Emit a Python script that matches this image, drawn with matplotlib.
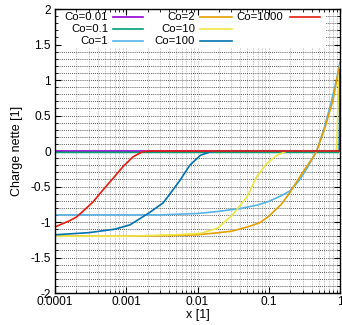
import matplotlib
matplotlib.use("Agg")
import matplotlib.pyplot as plt
from matplotlib.lines import Line2D
from matplotlib.patches import Rectangle
import numpy as np

plt.rcParams['font.family'] = ['Liberation Sans', 'DejaVu Sans']

labels = ["Co=0.01", "Co=0.1", "Co=1", "Co=2", "Co=10", "Co=100", "Co=1000"]
colors = ["#9400D3", "#009E73", "#56B4E9", "#E69F00", "#F0E442", "#0072B2", "#E51E10"]

x_co001 = [1e-4, 1.0]
y_co001 = [0.0, 0.0]

x_co01 = [1e-4, 0.95, 0.985, 0.995, 1.0]
y_co01 = [-0.02, -0.02, 0.0, 0.4, 1.2]

x_co1 = [1e-4, 0.003, 0.01, 0.02, 0.04, 0.07, 0.1, 0.15, 0.2, 0.27, 0.35, 0.47, 0.6, 0.75, 0.9, 1.0]
y_co1 = [-0.9, -0.9, -0.88, -0.85, -0.81, -0.76, -0.71, -0.63, -0.56, -0.41, -0.23, 0.0, 0.32, 0.68, 1.02, 1.25]

x_co2 = [1e-4, 0.001, 0.005, 0.01, 0.02, 0.03, 0.05, 0.075, 0.1, 0.15, 0.2, 0.27, 0.35, 0.42, 0.47, 0.62, 0.8, 0.94, 1.0]
y_co2 = [-1.2, -1.2, -1.19, -1.18, -1.15, -1.13, -1.07, -1.01, -0.92, -0.75, -0.58, -0.37, -0.2, -0.09, 0.0, 0.34, 0.72, 1.1, 1.22]

x_co10 = [1e-4, 0.001, 0.005, 0.011, 0.019, 0.031, 0.05, 0.068, 0.095, 0.13, 0.18, 0.88, 0.9, 0.92, 0.94, 0.97, 1.0]
y_co10 = [-1.2, -1.2, -1.18, -1.16, -1.09, -0.9, -0.64, -0.36, -0.17, -0.06, 0.0, 0.0, 0.1, 0.4, 0.7, 1.0, 1.2]

x_co100 = [1e-4, 0.0003, 0.0007, 0.00113, 0.0021, 0.0033, 0.0045, 0.0057, 0.0078, 0.011, 0.0165, 0.98, 1.0]
y_co100 = [-1.18, -1.15, -1.1, -1.04, -0.87, -0.73, -0.55, -0.41, -0.2, -0.06, 0.0, 0.0, 1.15]

x_co1000 = [1e-4, 0.000162, 0.0002, 0.00024, 0.00034, 0.00047, 0.00066, 0.0009, 0.00125, 0.0017, 0.0022, 0.995, 1.0]
y_co1000 = [-1.07, -0.98, -0.93, -0.86, -0.72, -0.55, -0.38, -0.22, -0.08, -0.01, 0.0, 0.0, 1.1]

series = [(x_co001, y_co001), (x_co01, y_co01), (x_co1, y_co1), (x_co2, y_co2),
          (x_co10, y_co10), (x_co100, y_co100), (x_co1000, y_co1000)]

W, H = 342, 325
fig = plt.figure(figsize=(W / 100, H / 100), dpi=100)
L, R, T, B = 55, 340, 9, 293
ax = fig.add_axes([L / W, (H - B) / H, (R - L) / W, (B - T) / H])
ax.set_xscale('log')
ax.set_xlim(1e-4, 1)
ax.set_ylim(-2, 2)

# grid
for d in [1e-4, 1e-3, 1e-2, 1e-1]:
    for m in range(1, 10):
        v = d * m
        if 1e-4 < v < 1:
            ax.axvline(v, color='#b0b0b0', lw=0.6, ls=(0, (1, 1)), zorder=1)
for yv in np.arange(-19, 20) / 10.0:
    ax.axhline(yv, color='#202020', lw=0.6, ls=(0, (1, 1.5)), zorder=1)

# legend box
def px2ax(px, py):
    return ((px - L) / (R - L), (B - py) / (B - T))

x0, y0 = px2ax(57, 48)
x1, y1 = px2ax(326, 10)
ax.add_patch(Rectangle((x0, y0), x1 - x0, y1 - y0, transform=ax.transAxes,
                       facecolor='white', edgecolor='none', zorder=1.5))

for (xs, ys), c in zip(series, colors):
    ax.plot(xs, ys, color=c, lw=1.2, zorder=2)

# legend entries
cols = [(108, 113, 143), (195, 200, 232), (283, 290, 320)]
rows = [16.5, 29, 40.5]
for i, (lab, c) in enumerate(zip(labels, colors)):
    col, row = divmod(i, 3)
    tr, s0, s1 = cols[col]
    ty = rows[row]
    tx, tyy = px2ax(tr, ty)
    ax.text(tx, tyy, lab, transform=ax.transAxes, ha='right', va='center',
            fontsize=8.2, zorder=3)
    a0, ay = px2ax(s0, ty)
    a1, _ = px2ax(s1, ty)
    ax.add_line(Line2D([a0, a1], [ay, ay], transform=ax.transAxes, color=c,
                       lw=1.2, zorder=3))

ax.set_yticks(np.arange(-2, 2.01, 0.5))
ax.set_yticklabels(["-2", "-1.5", "-1", "-0.5", "0", "0.5", "1", "1.5", "2"])
ax.set_yticks(np.arange(-2, 2.01, 0.1), minor=True)
ax.set_xticks([1e-4, 1e-3, 1e-2, 1e-1, 1])
ax.set_xticklabels(["0.0001", "0.001", "0.01", "0.1", "1"])
ax.tick_params(which='both', direction='in', top=True, right=True, labelsize=8.6)
ax.tick_params(which='major', length=4, width=0.8)
ax.tick_params(which='minor', length=2, width=0.6)
ax.tick_params(axis='x', pad=2)
ax.tick_params(axis='y', pad=3)
for s in ax.spines.values():
    s.set_linewidth(1.0)
    s.set_zorder(4)

ax.set_xlabel("x [1]", fontsize=9)
ax.set_ylabel("Charge nette [1]", fontsize=9)
ax.xaxis.set_label_coords(0.5, -0.055)
ax.yaxis.set_label_coords(-0.112, 0.5)

fig.savefig("out.png", dpi=100)
